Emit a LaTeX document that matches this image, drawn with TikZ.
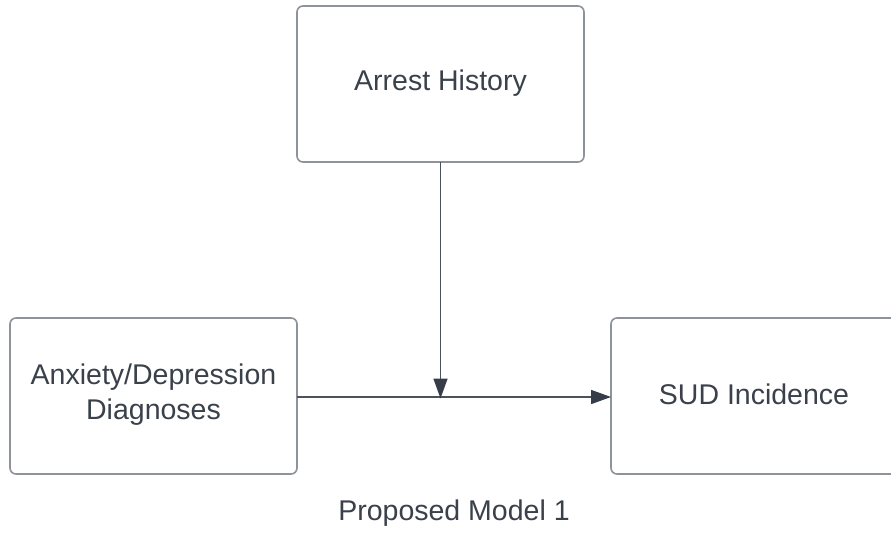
\documentclass[tikz,border=0pt]{standalone}
\usepackage{fontspec}
\setmainfont{Liberation Sans}
\usetikzlibrary{arrows.meta}
\definecolor{boxline}{HTML}{8E939A}
\definecolor{txt}{HTML}{3A414B}
\definecolor{arr}{HTML}{4A525E}
\definecolor{tip}{HTML}{363D48}
\begin{document}
\begin{tikzpicture}[x=1pt,y=-1pt,
  box/.style={draw=boxline,line width=1.6pt,rounded corners=6pt,fill=white},
  lbl/.style={text=txt,font=\fontsize{28.5}{35}\selectfont,align=center},
  conn/.style={draw=arr,line width=1.6pt,-{Triangle[length=20pt,width=14pt,color=tip]}}]
\useasboundingbox (0,0) rectangle (891,535);
\clip (0,0) rectangle (891,535);
\fill[white] (0,0) rectangle (891,535);
\draw[box] (297,6) rectangle (584,162);
\draw[box] (10,318) rectangle (297,474);
\draw[box] (611,318) rectangle (905,474);
\node[lbl] (arrest) at (440.5,83) {Arrest History};
\node[lbl] (anx) at (153.5,395) {Anxiety/Depression\\Diagnoses};
\node[lbl] (sud) at (754,394) {SUD Incidence};
\node[lbl] (cap) at (454,513) {Proposed Model 1};
\coordinate (aB) at (440.5,162);
\coordinate (lR) at (297,397);
\coordinate (sL) at (611,397);
\coordinate (mid) at (440.5,397);
\draw[conn] (lR) -- (sL);
\draw[conn] (aB) -- ([yshift=-1.5pt]mid);
\end{tikzpicture}
\end{document}
